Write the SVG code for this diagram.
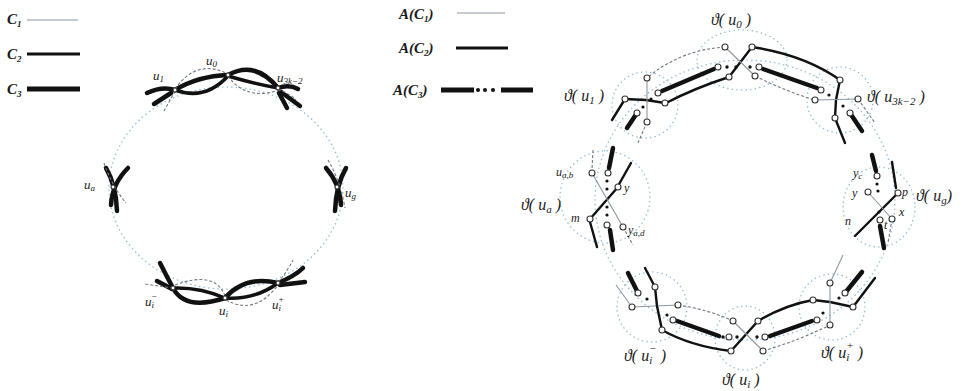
<svg xmlns="http://www.w3.org/2000/svg" width="963" height="391" viewBox="0 0 963 391">
<style>
text{font-family:"Liberation Serif","DejaVu Serif",serif;font-style:italic;fill:#1a1a1a}
.lg{font-size:15px;font-weight:bold}
.lb{font-size:16px}
.sm{font-size:13px}
.sr{font-size:12px}
.c1{fill:none;stroke:#8c96a2;stroke-width:1.1}
.c1d{fill:none;stroke:#6f7883;stroke-width:1.1;stroke-dasharray:3 2}
.c2{fill:none;stroke:#111;stroke-width:2.4;stroke-linecap:round}
.c3{fill:none;stroke:#111;stroke-width:4.5;stroke-linecap:round}
.dt{fill:none;stroke:#93bcd8;stroke-width:1.5;stroke-dasharray:0.1 4.5;stroke-linecap:round}
.v{fill:#fff;stroke:#333;stroke-width:1.1}
.d{fill:#111}
</style>

<!-- Legends -->
<g id="legend-left">
  <text class="lg" x="7" y="24">C<tspan font-size="9" dy="3">1</tspan></text>
  <line class="c1" x1="27" y1="20" x2="78" y2="20"/>
  <text class="lg" x="7" y="59">C<tspan font-size="9" dy="3">2</tspan></text>
  <line x1="27" y1="54" x2="80" y2="54" stroke="#111" stroke-width="3"/>
  <text class="lg" x="7" y="94">C<tspan font-size="9" dy="3">3</tspan></text>
  <line x1="27" y1="89" x2="80" y2="89" stroke="#111" stroke-width="5"/>
</g>
<g id="legend-right">
  <text class="lg" x="399" y="19">A(C<tspan font-size="9" dy="3">1</tspan><tspan dy="-3">)</tspan></text>
  <line class="c1" x1="457" y1="13" x2="505" y2="13"/>
  <text class="lg" x="399" y="53">A(C<tspan font-size="9" dy="3">2</tspan><tspan dy="-3">)</tspan></text>
  <line x1="456" y1="48" x2="508" y2="48" stroke="#111" stroke-width="3"/>
  <text class="lg" x="393" y="95">A(C<tspan font-size="9" dy="3">3</tspan><tspan dy="-3">)</tspan></text>
  <line x1="441" y1="90" x2="474" y2="90" stroke="#111" stroke-width="5"/>
  <circle class="d" cx="478" cy="90" r="2"/><circle class="d" cx="485" cy="90" r="2"/><circle class="d" cx="493" cy="90" r="2"/>
  <line x1="501" y1="90" x2="533" y2="90" stroke="#111" stroke-width="5"/>
</g>

<!-- LEFT FIGURE -->
<g id="left-connectors">
  <ellipse class="dt" cx="226" cy="188" rx="117" ry="101"/>
  <path class="c3" d="M175,90 Q198,76 228,75"/>
  <path class="c3" d="M175,90 Q205,101 228,76" style="stroke-width:3.5"/>
  <path class="c1d" d="M175,89 Q197,58 228,74"/>
  <path class="c3" d="M228,75 Q255,60 278,88"/>
  <path class="c3" d="M228,76 Q255,84 278,88" style="stroke-width:3.5"/>
  <path class="c1d" d="M228,76 Q245,100 276,91"/>
  <path class="c3" d="M175,90 Q162,86 147,93"/>
  <path class="c3" d="M171,93 L154,104"/>
  <path class="c1d" d="M175,91 L164,111"/>
  <path class="c3" d="M278,88 Q289,84 298,89"/>
  <path class="c3" d="M281,92 L300,106"/>
  <path class="c3" d="M279,93 L287,108"/>
  <path class="c1d" d="M278,89 Q292,95 296,100"/>
  <path class="c3" d="M106,168 Q116,185 117,211"/>
  <path class="c3" d="M128,168 Q112,184 111,205"/>
  <path class="c1d" d="M104,163 Q112,186 126,203"/>
  <path class="c3" d="M346,168 Q336,185 335,211"/>
  <path class="c3" d="M326,168 Q340,184 341,205"/>
  <path class="c1d" d="M328,160 Q340,180 345,208"/>
  <path class="c3" d="M173,288 Q200,287 225,298" style="stroke-width:3.5"/>
  <path class="c3" d="M173,288 Q185,311 225,298"/>
  <path class="c1d" d="M175,285 Q215,270 225,296"/>
  <path class="c3" d="M225,298 Q245,275 278,283"/>
  <path class="c3" d="M225,298 Q255,300 278,283" style="stroke-width:3.5"/>
  <path class="c1d" d="M226,300 Q255,316 278,285"/>
  <path class="c3" d="M173,288 Q166,275 160,263"/>
  <path class="c3" d="M172,289 L157,281"/>
  <path class="c1d" d="M173,288 L145,284"/>
  <path class="c3" d="M278,283 Q295,276 303,268"/>
  <path class="c3" d="M280,285 L305,282"/>
  <path class="c1d" d="M278,283 Q288,270 293,260"/>
</g>
<g id="u1"><circle class="v" cx="175" cy="90" r="2"/><text class="sm" x="153" y="80">u<tspan font-size="9" dy="2">1</tspan></text></g>
<g id="u0"><circle class="v" cx="228" cy="75" r="2"/><text class="sm" x="206" y="65">u<tspan font-size="9" dy="2">0</tspan></text></g>
<g id="u3k-2"><circle class="v" cx="278" cy="88" r="2"/><text class="sm" x="277" y="82">u<tspan font-size="9" dy="2">3k−2</tspan></text></g>
<g id="ua"><circle class="v" cx="113" cy="187" r="2"/><text class="sm" x="84" y="189">u<tspan font-size="9" dy="2">a</tspan></text></g>
<g id="ug"><circle class="v" cx="337" cy="187" r="2"/><text class="sm" x="345" y="197">u<tspan font-size="9" dy="2">g</tspan></text></g>
<g id="ui-minus"><circle class="v" cx="173" cy="288" r="2"/><text class="sm" x="145" y="306">u<tspan font-size="9" dy="2">i</tspan><tspan font-size="9" dx="-3" dy="-9">−</tspan></text></g>
<g id="ui"><circle class="v" cx="225" cy="298" r="2"/><text class="sm" x="219" y="315">u<tspan font-size="9" dy="2">i</tspan></text></g>
<g id="ui-plus"><circle class="v" cx="278" cy="283" r="2"/><text class="sm" x="272" y="309">u<tspan font-size="9" dy="2">i</tspan><tspan font-size="9" dx="-3" dy="-9">+</tspan></text></g>

<!-- RIGHT FIGURE -->
<g id="regions">
  <ellipse class="dt" cx="745" cy="200" rx="150" ry="140"/>
  <ellipse class="dt" cx="742" cy="60" rx="45" ry="30"/>
  <circle class="dt" cx="645" cy="105" r="33"/>
  <circle class="dt" cx="840" cy="100" r="33"/>
  <ellipse class="dt" cx="605" cy="197" rx="45" ry="46"/>
  <ellipse class="dt" cx="879" cy="207" rx="36" ry="40"/>
  <circle class="dt" cx="652" cy="307" r="35"/>
  <ellipse class="dt" cx="745" cy="338" rx="30" ry="32"/>
  <circle class="dt" cx="832" cy="307" r="33"/>
</g>

<g id="right-connectors">
  <path class="c1d" d="M725,47 Q680,50 647,78"/>
  <path class="c3" d="M714,69 L662,91"/>
  <path class="c2" d="M729,77 Q695,88 666,103"/>
  <path class="c2" d="M752,47 Q805,55 840,80"/>
  <path class="c3" d="M763,69 L817,88"/>
  <path class="c1d" d="M755,76 Q790,93 815,100"/>
  <path class="c2" d="M625,99 L612,120"/>
  <path class="c3" d="M637,113 L627,128"/>
  <path class="c1d" d="M647,122 L638,143"/>
  <path class="c3" d="M613,148 L609,168"/>
  <path class="c2" d="M631,163 L618,186"/>
  <path class="c1d" d="M593,150 L592,169"/>
  <path class="c2" d="M835,118 L845,143"/>
  <path class="c3" d="M850,113 L862,131"/>
  <path class="c1d" d="M858,99 L875,123"/>
  <path class="c3" d="M872,155 L876,171"/>
  <path class="c2" d="M892,162 L896,188"/>
  <path class="c2" d="M590,222 L597,247"/>
  <path class="c3" d="M610,230 L613,250"/>
  <path class="c1d" d="M623,227 L633,245"/>
  <path class="c2" d="M655,287 L645,268"/>
  <path class="c3" d="M638,293 L628,273"/>
  <path class="c1" d="M632,307 L616,285"/>
  <path class="c3" d="M880,226 L884,248"/>
  <path class="c1d" d="M892,219 L888,243"/>
  <path class="c1" d="M830,283 L843,255"/>
  <path class="c3" d="M845,293 L862,272"/>
  <path class="c2" d="M853,307 L875,278"/>
  <path class="c2" d="M662,330 Q690,346 731,351"/>
  <path class="c3" d="M677,321 L719,336"/>
  <path class="c1d" d="M678,305 Q710,310 733,321"/>
  <path class="c2" d="M758,321 Q785,305 813,300"/>
  <path class="c3" d="M770,336 L812,321"/>
  <path class="c1d" d="M763,351 Q800,340 830,325"/>
</g>

<g id="theta-u0">
  <path class="c2" d="M752,47 L729,77"/>
  <path class="c1" d="M725,47 L755,76"/>
  <circle class="d" cx="727" cy="67" r="1.7"/><circle class="d" cx="736" cy="67" r="1.7"/><circle class="d" cx="750" cy="67" r="1.7"/>
  <circle class="v" cx="725" cy="47" r="3"/><circle class="v" cx="752" cy="47" r="3"/>
  <circle class="v" cx="718" cy="67" r="3"/><circle class="v" cx="729" cy="77" r="3"/>
  <circle class="v" cx="759" cy="67" r="3"/><circle class="v" cx="755" cy="76" r="3"/>
  <text class="lb" x="711" y="25">ϑ( u<tspan font-size="11" dy="3">0</tspan><tspan dy="-3"> )</tspan></text>
</g>
<g id="theta-u1">
  <path class="c2" d="M625,99 L646,100 L665,103"/>
  <path class="c1" d="M647,78 L647,122"/>
  <circle class="d" cx="651" cy="99" r="1.6"/><circle class="d" cx="643" cy="107" r="1.6"/>
  <circle class="v" cx="647" cy="78" r="3"/><circle class="v" cx="625" cy="99" r="3"/>
  <circle class="v" cx="665" cy="103" r="3"/><circle class="v" cx="658" cy="93" r="3"/>
  <circle class="v" cx="637" cy="113" r="3"/><circle class="v" cx="647" cy="122" r="3"/>
  <text class="lb" x="564" y="101">ϑ( u<tspan font-size="11" dy="3">1</tspan><tspan dy="-3"> )</tspan></text>
</g>
<g id="theta-u3k-2">
  <path class="c2" d="M840,80 L836,100 L835,118"/>
  <path class="c1" d="M815,100 L858,99"/>
  <circle class="d" cx="829" cy="95" r="1.6"/><circle class="d" cx="843" cy="106" r="1.6"/>
  <circle class="v" cx="840" cy="80" r="3"/><circle class="v" cx="815" cy="100" r="3"/>
  <circle class="v" cx="858" cy="99" r="3"/><circle class="v" cx="835" cy="118" r="3"/>
  <circle class="v" cx="821" cy="90" r="3"/><circle class="v" cx="850" cy="113" r="3"/>
  <text class="lb" x="867" y="102">ϑ( u<tspan font-size="11" dy="3">3k−2</tspan><tspan dy="-3"> )</tspan></text>
</g>
<g id="theta-ua">
  <path class="c2" d="M618,187 L590,219"/>
  <path class="c1" d="M592,173 L623,227"/>
  <circle class="d" cx="607" cy="181" r="1.6"/><circle class="d" cx="607" cy="189" r="1.6"/>
  <circle class="d" cx="607" cy="207" r="1.6"/><circle class="d" cx="607" cy="215" r="1.6"/>
  <circle class="v" cx="608" cy="173" r="3"/><circle class="v" cx="618" cy="187" r="3"/>
  <circle class="v" cx="592" cy="173" r="3"/><circle class="v" cx="590" cy="219" r="3"/>
  <circle class="v" cx="607" cy="225" r="3"/><circle class="v" cx="623" cy="227" r="3"/>
  <text class="sr" x="556" y="176">u<tspan font-size="9" dy="2">a,b</tspan></text>
  <text class="sr" x="624" y="192">y</text>
  <text class="sr" x="571" y="222">m</text>
  <text class="sr" x="628" y="234">y<tspan font-size="9" dy="2">a,d</tspan></text>
  <text class="lb" x="521" y="210">ϑ( u<tspan font-size="11" dy="3">a</tspan><tspan dy="-3"> )</tspan></text>
</g>
<g id="theta-ug">
  <path class="c2" d="M898,193 L855,236"/>
  <path class="c1" d="M868,192 L892,219"/>
  <circle class="d" cx="877" cy="184" r="1.6"/><circle class="d" cx="878" cy="191" r="1.6"/>
  <circle class="d" cx="879" cy="212" r="1.6"/>
  <circle class="v" cx="877" cy="176" r="3"/><circle class="v" cx="868" cy="192" r="3"/>
  <circle class="v" cx="898" cy="193" r="3"/><circle class="v" cx="880" cy="220" r="3"/>
  <circle class="v" cx="892" cy="219" r="3"/>
  <text class="sr" x="853" y="177">y<tspan font-size="9" dy="2">c</tspan></text>
  <text class="sr" x="852" y="197">y</text>
  <text class="sr" x="902" y="196">p</text>
  <text class="sr" x="845" y="225">n</text>
  <text class="sr" x="899" y="216">x</text>
  <text class="sr" x="884" y="229">t</text>
  <text class="lb" x="916" y="201">ϑ( u<tspan font-size="11" dy="3">g</tspan><tspan dy="-3">)</tspan></text>
</g>
<g id="theta-ui-minus">
  <path class="c1" d="M632,307 L678,305"/>
  <path class="c2" d="M655,287 L657,306 L662,330"/>
  <circle class="d" cx="647" cy="299" r="1.6"/><circle class="d" cx="667" cy="315" r="1.6"/>
  <circle class="v" cx="632" cy="307" r="3"/><circle class="v" cx="655" cy="287" r="3"/>
  <circle class="v" cx="678" cy="305" r="3"/><circle class="v" cx="638" cy="293" r="3"/>
  <circle class="v" cx="662" cy="330" r="3"/><circle class="v" cx="673" cy="320" r="3"/>
  <text class="lb" x="624" y="361">ϑ( u<tspan font-size="11" dy="3">i</tspan><tspan font-size="11" dx="-3" dy="-12">−</tspan><tspan dy="9"> )</tspan></text>
</g>
<g id="theta-ui">
  <path class="c2" d="M731,351 L758,321"/>
  <path class="c1" d="M733,321 L763,351"/>
  <circle class="d" cx="723" cy="337" r="1.7"/><circle class="d" cx="737" cy="337" r="1.7"/><circle class="d" cx="757" cy="337" r="1.7"/>
  <circle class="v" cx="733" cy="321" r="3"/><circle class="v" cx="731" cy="351" r="3"/>
  <circle class="v" cx="758" cy="321" r="3"/><circle class="v" cx="763" cy="351" r="3"/>
  <circle class="v" cx="729" cy="337" r="3"/><circle class="v" cx="765" cy="337" r="3"/>
  <text class="lb" x="722" y="385">ϑ( u<tspan font-size="11" dy="3">i</tspan><tspan dy="-3"> )</tspan></text>
</g>
<g id="theta-ui-plus">
  <path class="c2" d="M813,300 L830,302 L853,307"/>
  <path class="c1" d="M830,283 L830,325"/>
  <circle class="d" cx="823" cy="313" r="1.6"/><circle class="d" cx="839" cy="298" r="1.6"/>
  <circle class="v" cx="813" cy="300" r="3"/><circle class="v" cx="853" cy="307" r="3"/>
  <circle class="v" cx="830" cy="283" r="3"/><circle class="v" cx="830" cy="325" r="3"/>
  <circle class="v" cx="845" cy="293" r="3"/><circle class="v" cx="817" cy="320" r="3"/>
  <text class="lb" x="821" y="358">ϑ( u<tspan font-size="11" dy="3">i</tspan><tspan font-size="11" dx="-3" dy="-12">+</tspan><tspan dy="9"> )</tspan></text>
</g>
</svg>
